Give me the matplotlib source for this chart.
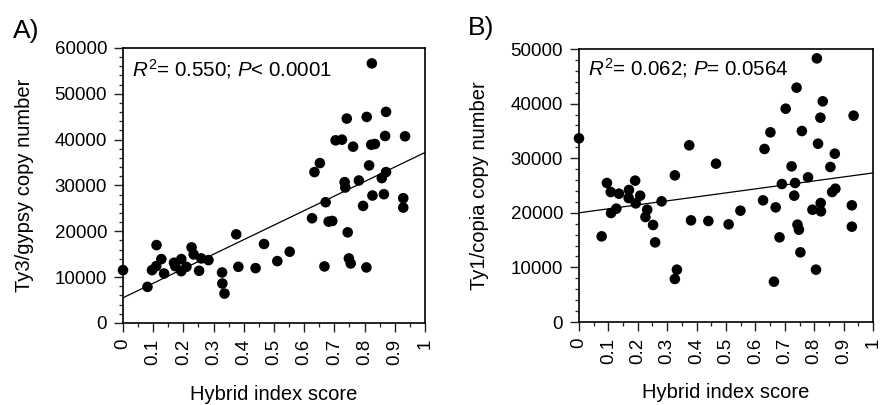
import numpy as np
import matplotlib
matplotlib.use("Agg")
import matplotlib.pyplot as plt
from matplotlib.ticker import MultipleLocator

plt.rcParams["font.family"] = ["Liberation Sans", "DejaVu Sans"]
plt.rcParams["mathtext.fontset"] = "custom"
plt.rcParams["mathtext.rm"] = "Liberation Sans"
plt.rcParams["mathtext.it"] = "Liberation Sans:italic"

# Panel A: hybrid index vs Ty3/gypsy copy number
hybrid_a = [0.000, 0.081, 0.096, 0.110, 0.111, 0.127, 0.136, 0.169, 0.173, 0.193,
            0.193, 0.210, 0.227, 0.234, 0.252, 0.259, 0.283, 0.328, 0.329, 0.336,
            0.375, 0.382, 0.439, 0.467, 0.511, 0.552, 0.626, 0.634, 0.652, 0.667,
            0.671, 0.681, 0.693, 0.704, 0.725, 0.734, 0.736, 0.741, 0.744, 0.748,
            0.754, 0.762, 0.781, 0.795, 0.806, 0.807, 0.815, 0.822, 0.824, 0.826,
            0.834, 0.857, 0.864, 0.868, 0.871, 0.871, 0.928, 0.928, 0.934]
gypsy = [11530, 7880, 11530, 12400, 17000, 13940, 10800, 13140, 12400, 13940,
         11310, 12260, 16500, 14960, 11390, 14090, 13720, 11020, 8610, 6420,
         19340, 12260, 11970, 17230, 13500, 15550, 22850, 32920, 34890, 12340,
         26350, 22120, 22260, 39850, 40000, 30730, 29560, 44600, 19780, 14090,
         12990, 38470, 31090, 25550, 12120, 44960, 34380, 38900, 56640, 27810,
         39050, 31610, 28100, 40800, 32920, 46060, 27230, 25180, 40730]
fit_a = [5500, 37200]  # fitted line at x=0 and x=1

# Panel B: hybrid index vs Ty1/copia copy number
hybrid_b = [0.000, 0.077, 0.095, 0.108, 0.109, 0.127, 0.136, 0.170, 0.169, 0.191,
            0.193, 0.208, 0.232, 0.226, 0.252, 0.259, 0.281, 0.326, 0.326, 0.333,
            0.375, 0.381, 0.440, 0.466, 0.509, 0.549, 0.626, 0.631, 0.651, 0.663,
            0.669, 0.682, 0.690, 0.703, 0.723, 0.732, 0.735, 0.740, 0.743, 0.748,
            0.753, 0.758, 0.779, 0.794, 0.806, 0.809, 0.813, 0.821, 0.822, 0.823,
            0.829, 0.855, 0.861, 0.870, 0.872, 0.928, 0.928, 0.934]
copia = [33640, 15690, 25460, 23810, 19960, 20760, 23500, 24180, 22710, 25890,
         21730, 23140, 20570, 19230, 17770, 14590, 22100, 26860, 7880, 9590,
         32360, 18620, 18500, 29000, 17890, 20390, 22280, 31690, 34740, 7390,
         21000, 15510, 25270, 39070, 28510, 23140, 25460, 42920, 17830, 16910,
         12760, 34980, 26500, 20570, 9590, 48290, 32660, 37420, 21790, 20270,
         40420, 28390, 23810, 30830, 24420, 21370, 17460, 37790]
fit_b = [20000, 27300]

x_ticks = [0, 0.1, 0.2, 0.3, 0.4, 0.5, 0.6, 0.7, 0.8, 0.9, 1]
x_tick_labels = ["0", "0.1", "0.2", "0.3", "0.4", "0.5", "0.6", "0.7", "0.8", "0.9", "1"]

fig = plt.figure(figsize=(8.83, 4.05), dpi=100)
ax_a = fig.add_axes([0.1393, 0.2025, 0.3420, 0.6790])
ax_b = fig.add_axes([0.6557, 0.2049, 0.3330, 0.6741])


def style_panel(ax, x, y, fit, ymax, ylabel, note, label_x, note_y):
    ax.plot([0, 1], fit, color="black", lw=0.9, zorder=2)
    ax.scatter(x, y, s=58, color="black", edgecolors="none", zorder=3, clip_on=False)
    ax.set_xlim(0, 1)
    ax.set_ylim(0, ymax)
    ax.set_xticks(x_ticks)
    ax.set_xticklabels(x_tick_labels, rotation=90)
    ax.yaxis.set_major_locator(MultipleLocator(10000))
    ax.yaxis.set_minor_locator(MultipleLocator(2000))
    ax.xaxis.set_minor_locator(MultipleLocator(0.05))
    ax.tick_params(which="major", direction="out", length=6.5, width=1.0,
                   labelsize=13.5, pad=5, color="#222222")
    ax.tick_params(which="minor", direction="out", length=3, width=0.9, color="#222222")
    for sp in ax.spines.values():
        sp.set_linewidth(1.2)
    ax.set_xlabel("Hybrid index score", fontsize=14.5)
    ax.xaxis.set_label_coords(0.5, -0.225)
    ax.set_ylabel(ylabel, fontsize=14.5)
    ax.yaxis.set_label_coords(label_x, 0.5)
    ax.text(0.03, note_y, note, transform=ax.transAxes, fontsize=14.8,
            ha="left", va="baseline")


style_panel(ax_a, hybrid_a, gypsy, fit_a, 60000, "Ty3/gypsy copy number",
            r"$R^2$= 0.550; $P$< 0.0001", -0.295, 0.898)
style_panel(ax_b, hybrid_b, copia, fit_b, 50000, "Ty1/copia copy number",
            r"$R^2$= 0.062; $P$= 0.0564", -0.305, 0.905)

fig.text(0.0147, 0.906, "A)", fontsize=19, va="baseline")
fig.text(0.530, 0.913, "B)", fontsize=19, va="baseline")

fig.savefig("out.png", dpi=100)
